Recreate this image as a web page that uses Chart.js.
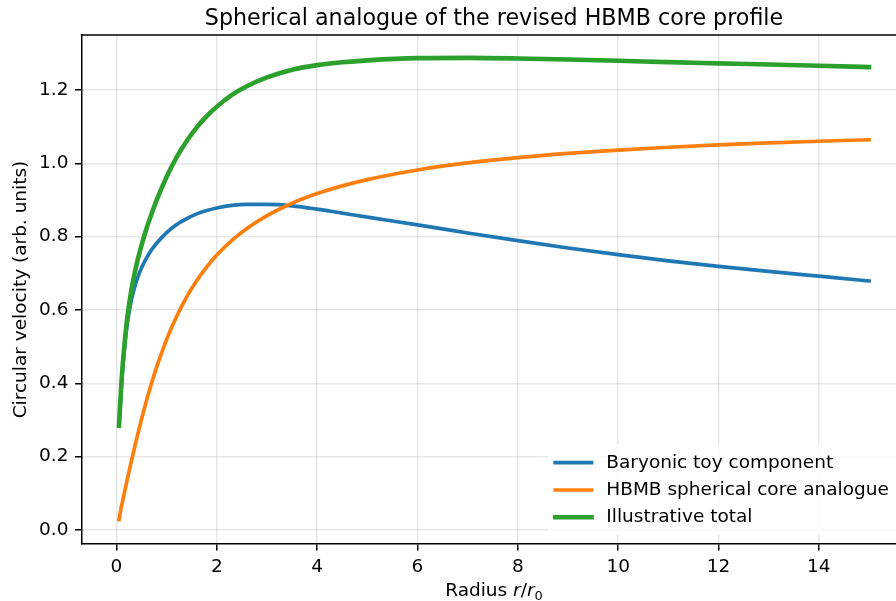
<!DOCTYPE html>
<html>
<head>
<meta charset="utf-8">
<script src="https://cdn.jsdelivr.net/npm/chart.js@4.4.1/dist/chart.umd.min.js"></script>
<style>
  html, body { margin: 0; padding: 0; background: #ffffff; overflow: hidden; }
  #wrap { width: 912px; height: 601px; }
</style>
</head>
<body>
<div id="wrap"><canvas id="c" width="912" height="601"></canvas></div>
<script>
// ---- data ----
const radius = [0.05, 0.1, 0.15, 0.2, 0.25, 0.3, 0.4, 0.5, 0.6, 0.7, 0.8, 1.0, 1.2, 1.4, 1.6, 1.8, 2.0, 2.3, 2.6, 3.0, 3.5, 4.0, 4.5, 5.0, 6, 7, 8, 9, 10, 11, 12, 13, 14, 15];
const baryonic = [0.283, 0.400, 0.483, 0.547, 0.593, 0.629, 0.680, 0.715, 0.742, 0.764, 0.782, 0.811, 0.833, 0.849, 0.862, 0.871, 0.878, 0.885, 0.888, 0.888, 0.884, 0.875, 0.864, 0.853, 0.832, 0.810, 0.789, 0.769, 0.751, 0.734, 0.719, 0.705, 0.692, 0.679];
const hbmbCore = [0.028, 0.0646, 0.0965, 0.128, 0.159, 0.1893, 0.2477, 0.3025, 0.3536, 0.4007, 0.4440, 0.5198, 0.5830, 0.6357, 0.6801, 0.7176, 0.7497, 0.7897, 0.8223, 0.8572, 0.8911, 0.9174, 0.9384, 0.9556, 0.9818, 1.0010, 1.0155, 1.0270, 1.0362, 1.0438, 1.0502, 1.0556, 1.0602, 1.0643];
const total = [0.2844, 0.4052, 0.4925, 0.5617, 0.6140, 0.6570, 0.7237, 0.7766, 0.8229, 0.8623, 0.8993, 0.9634, 1.0168, 1.0606, 1.0980, 1.1285, 1.1546, 1.1867, 1.2103, 1.2342, 1.2552, 1.2678, 1.2756, 1.2809, 1.2869, 1.2877, 1.2860, 1.2830, 1.2797, 1.2760, 1.2727, 1.2694, 1.2660, 1.2625];

const seriesLabels = ['Baryonic toy component', 'HBMB spherical core analogue', 'Illustrative total'];
const seriesColors = ['#1f77b4', '#ff7f0e', '#2ca02c'];
const seriesWidths = [3.7, 3.7, 4.6];
const xTicks = [0, 2, 4, 6, 8, 10, 12, 14];
const yTicks = [0.0, 0.2, 0.4, 0.6, 0.8, 1.0, 1.2];
const titleText = 'Spherical analogue of the revised HBMB core profile';
const yLabelText = 'Circular velocity (arb. units)';

const FONT = 'DejaVu Sans';
const TICK_SIZE = 18.5;

function pts(ys) { return radius.map((r, i) => ({ x: r, y: ys[i] })); }

const seriesData = [baryonic, hbmbCore, total];
const datasets = seriesData.map((ys, i) => ({
  label: seriesLabels[i],
  data: pts(ys),
  borderColor: seriesColors[i],
  backgroundColor: seriesColors[i],
  borderWidth: seriesWidths[i],
  pointRadius: 0,
  pointHoverRadius: 0,
  fill: false,
  cubicInterpolationMode: 'monotone',
  borderCapStyle: 'square',
  borderJoinStyle: 'round',
  order: 3 - i
}));

const decor = {
  id: 'decor',
  afterDraw(chart) {
    const ctx = chart.ctx;
    const a = chart.chartArea;
    ctx.save();
    // top spine
    ctx.strokeStyle = '#000';
    ctx.lineWidth = 1.5;
    ctx.beginPath();
    ctx.moveTo(a.left - 0.75, a.top);
    ctx.lineTo(a.right + 0.75, a.top);
    ctx.stroke();

    // title
    ctx.fillStyle = '#000';
    ctx.font = '22.2px "' + FONT + '"';
    ctx.textAlign = 'center';
    ctx.textBaseline = 'alphabetic';
    ctx.fillText(titleText, (a.left + a.right) / 2, 25);

    // y label
    ctx.save();
    ctx.translate(21, (a.top + a.bottom) / 2);
    ctx.rotate(-Math.PI / 2);
    ctx.font = TICK_SIZE + 'px "' + FONT + '"';
    ctx.textAlign = 'center';
    ctx.textBaseline = 'middle';
    ctx.fillText(yLabelText, 0, 0);
    ctx.restore();

    // x label: Radius r/r_0
    const parts = [
      { t: 'Radius ', f: TICK_SIZE + 'px "' + FONT + '"', dy: 0 },
      { t: 'r', f: 'italic ' + TICK_SIZE + 'px "' + FONT + '"', dy: 0 },
      { t: '/', f: TICK_SIZE + 'px "' + FONT + '"', dy: 0 },
      { t: 'r', f: 'italic ' + TICK_SIZE + 'px "' + FONT + '"', dy: 0 },
      { t: '0', f: (TICK_SIZE * 0.7) + 'px "' + FONT + '"', dy: 4 }
    ];
    let w = 0;
    parts.forEach(p => { ctx.font = p.f; p.w = ctx.measureText(p.t).width; w += p.w; });
    let x = (a.left + a.right) / 2 - w / 2;
    const yb = 596;
    ctx.textAlign = 'left';
    ctx.textBaseline = 'alphabetic';
    parts.forEach(p => { ctx.font = p.f; ctx.fillText(p.t, x, yb + p.dy); x += p.w; });

    // legend
    const bx = 548, by = 444, bw = 349, bh = 91;
    ctx.fillStyle = 'rgba(255,255,255,0.8)';
    ctx.beginPath();
    ctx.roundRect(bx, by, bw, bh, 4);
    ctx.fill();
    const rows = [462.7, 490, 517.3];
    ctx.font = TICK_SIZE + 'px "' + FONT + '"';
    ctx.textBaseline = 'middle';
    ctx.textAlign = 'left';
    rows.forEach((yy, i) => {
      ctx.strokeStyle = seriesColors[i];
      ctx.lineWidth = seriesWidths[i];
      ctx.lineCap = 'square';
      ctx.beginPath();
      ctx.moveTo(555.2, yy);
      ctx.lineTo(591.5, yy);
      ctx.stroke();
      ctx.fillStyle = '#000';
      ctx.fillText(seriesLabels[i], 606.3, yy);
    });
    ctx.restore();
  }
};

new Chart(document.getElementById('c'), {
  type: 'line',
  data: { datasets },
  plugins: [decor],
  options: {
    responsive: false,
    devicePixelRatio: 1,
    animation: false,
    events: [],
    layout: { padding: { left: 0, top: 35, right: 5.5, bottom: 0 } },
    plugins: { legend: { display: false }, title: { display: false }, tooltip: { enabled: false } },
    scales: {
      x: {
        type: 'linear',
        min: -0.6975,
        max: 15.7475,
        afterBuildTicks: s => { s.ticks = xTicks.map(v => ({ value: v })); },
        afterFit: s => { s.height = 57; },
        ticks: { callback: v => String(v), color: '#000', font: { family: FONT, size: TICK_SIZE }, padding: 6, maxRotation: 0, autoSkip: false },
        grid: { color: 'rgba(176,176,176,0.3)', lineWidth: 1.5, tickColor: '#000', tickLength: 6.5, tickWidth: 1.5 },
        border: { display: true, color: '#000', width: 1.5 }
      },
      y: {
        type: 'linear',
        min: -0.0385,
        max: 1.35,
        afterBuildTicks: s => { s.ticks = yTicks.map(v => ({ value: v })); },
        afterFit: s => { s.width = 81.5; },
        ticks: { callback: v => Number(v).toFixed(1), color: '#000', font: { family: FONT, size: TICK_SIZE }, padding: 6.5, autoSkip: false },
        grid: { color: 'rgba(176,176,176,0.3)', lineWidth: 1.5, tickColor: '#000', tickLength: 6.5, tickWidth: 1.5 },
        border: { display: true, color: '#000', width: 1.5 }
      }
    }
  }
});
</script>
</body>
</html>
